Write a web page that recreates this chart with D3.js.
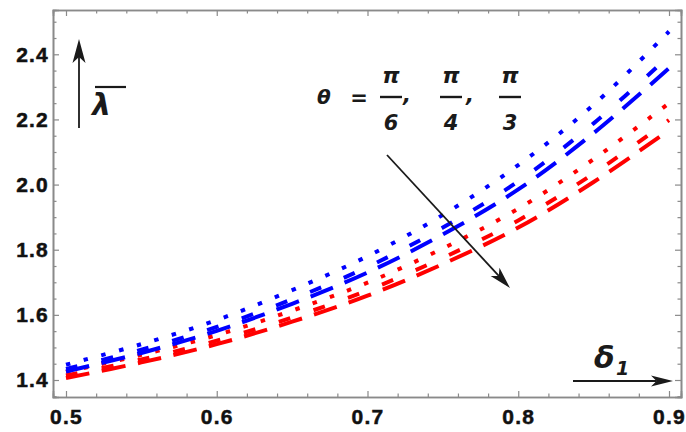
<!DOCTYPE html>
<html>
<head>
<meta charset="utf-8">
<script src="https://cdn.jsdelivr.net/npm/d3@7"></script>
<style>
  html, body { margin: 0; padding: 0; background: #fff; }
  svg { display: block; }
</style>
</head>
<body>
<svg id="chart" width="686" height="432"></svg>
<script>
// δ1 sample points
const delta = [0.5, 0.55, 0.6, 0.65, 0.7, 0.75, 0.8, 0.85, 0.9];

// λ̄ for θ = π/6, π/4, π/3 — blue family
const blueTheta6 = [1.447, 1.510, 1.584, 1.676, 1.780, 1.907, 2.060, 2.245, 2.470];
const blueTheta4 = [1.434, 1.493, 1.563, 1.648, 1.747, 1.868, 2.010, 2.188, 2.395];
const blueTheta3 = [1.426, 1.483, 1.551, 1.634, 1.730, 1.847, 1.985, 2.158, 2.357];

// λ̄ for θ = π/6, π/4, π/3 — red family
const redTheta6 = [1.425, 1.477, 1.538, 1.613, 1.699, 1.804, 1.926, 2.078, 2.250];
const redTheta4 = [1.414, 1.463, 1.521, 1.592, 1.675, 1.775, 1.890, 2.034, 2.198];
const redTheta3 = [1.406, 1.454, 1.510, 1.579, 1.659, 1.756, 1.868, 2.008, 2.167];

// tick values
const xMajorTicks = [0.5, 0.6, 0.7, 0.8, 0.9];
const yMajorTicks = [1.4, 1.6, 1.8, 2.0, 2.2, 2.4];

(function () {
const svg = d3.select("#chart");
svg.append("rect").attr("width", 686).attr("height", 432).attr("fill", "#fff");

const frameL = 53, frameR = 681, frameT = 10, frameB = 397;
const x = d3.scaleLinear().domain([0.49138, 0.90796]).range([frameL, frameR]);
const y = d3.scaleLinear().domain([1.3478, 2.536]).range([frameB, frameT]);

const xMinor = d3.range(0.5, 0.9001, 0.02).map(v => +v.toFixed(2)).filter(v => !xMajorTicks.some(t => Math.abs(t - v) < 1e-9));
const yMinor = d3.range(1.35, 2.5001, 0.05).map(v => +v.toFixed(2)).filter(v => !yMajorTicks.some(t => Math.abs(t - v) < 1e-9));

const frameColor = "#8a8a8a";
const fmt = d3.format(".1f");

function styleAxis(g, withLabels) {
  g.select(".domain").attr("stroke", frameColor).attr("stroke-width", 1.6);
  g.selectAll(".tick line").attr("stroke", frameColor).attr("stroke-width", 1.2);
  g.selectAll(".tick text")
    .attr("fill", withLabels ? "#111" : "none")
    .attr("stroke", withLabels ? "#111" : "none")
    .attr("stroke-width", 0.5)
    .style("font-family", "'Liberation Sans', Arial, sans-serif")
    .style("font-weight", "bold")
    .style("font-size", "21px")
    .style("letter-spacing", "1.2px");
}

// bottom
svg.append("g").attr("transform", `translate(0,${frameB})`)
  .call(d3.axisBottom(x).tickValues(xMinor).tickSize(-3.5).tickFormat(""))
  .call(g => styleAxis(g, false));
svg.append("g").attr("transform", `translate(0,${frameB})`)
  .call(d3.axisBottom(x).tickValues(xMajorTicks).tickSize(-6).tickPadding(12).tickFormat(fmt))
  .call(g => styleAxis(g, true));
// top
svg.append("g").attr("transform", `translate(0,${frameT})`)
  .call(d3.axisTop(x).tickValues(xMinor).tickSize(-3.5).tickFormat(""))
  .call(g => styleAxis(g, false));
svg.append("g").attr("transform", `translate(0,${frameT})`)
  .call(d3.axisTop(x).tickValues(xMajorTicks).tickSize(-6).tickFormat(""))
  .call(g => styleAxis(g, false));
// left
svg.append("g").attr("transform", `translate(${frameL},0)`)
  .call(d3.axisLeft(y).tickValues(yMinor).tickSize(-3.5).tickFormat(""))
  .call(g => styleAxis(g, false));
svg.append("g").attr("transform", `translate(${frameL},0)`)
  .call(d3.axisLeft(y).tickValues(yMajorTicks).tickSize(-6).tickPadding(4).tickFormat(fmt))
  .call(g => styleAxis(g, true));
// right
svg.append("g").attr("transform", `translate(${frameR},0)`)
  .call(d3.axisRight(y).tickValues(yMinor).tickSize(-3.5).tickFormat(""))
  .call(g => styleAxis(g, false));
svg.append("g").attr("transform", `translate(${frameR},0)`)
  .call(d3.axisRight(y).tickValues(yMajorTicks).tickSize(-6).tickFormat(""))
  .call(g => styleAxis(g, false));

// curves
const line = d3.line()
  .x((d, i) => x(delta[i]))
  .y(d => y(d))
  .curve(d3.curveCatmullRom);

const dotted = "4.5,13.8", dashed = "12,24.6", longDashed = "24,12.6";
const series = [
  { values: redTheta3, color: "#ff0000", dash: longDashed },
  { values: redTheta4, color: "#ff0000", dash: dashed },
  { values: redTheta6, color: "#ff0000", dash: dotted },
  { values: blueTheta3, color: "#0000ff", dash: longDashed },
  { values: blueTheta4, color: "#0000ff", dash: dashed },
  { values: blueTheta6, color: "#0000ff", dash: dotted }
];
svg.append("g").selectAll("path").data(series).join("path")
  .attr("d", d => line(d.values))
  .attr("fill", "none")
  .attr("stroke", d => d.color)
  .attr("stroke-width", 4)
  .attr("stroke-dasharray", d => d.dash);

// annotations
const ink = "#1a1a1a";
function arrow(x1, y1, x2, y2, len, half) {
  const a = Math.atan2(y2 - y1, x2 - x1);
  const ux = Math.cos(a), uy = Math.sin(a), px = -uy, py = ux;
  const bx = x2 - ux * len, by = y2 - uy * len;
  const nx = x2 - ux * len * 0.75, ny = y2 - uy * len * 0.75;
  svg.append("line").attr("x1", x1).attr("y1", y1).attr("x2", nx).attr("y2", ny)
    .attr("stroke", ink).attr("stroke-width", 1.8);
  svg.append("path")
    .attr("d", `M${x2},${y2}L${bx + px * half},${by + py * half}L${nx},${ny}L${bx - px * half},${by - py * half}Z`)
    .attr("fill", ink);
}
arrow(79, 128, 79, 39, 24, 6.5);
arrow(387, 155, 510, 288, 22, 6);
arrow(573, 381, 673, 381, 22, 5.5);

const italic = "'DejaVu Sans', Verdana, sans-serif";
function txt(s, xp, yp, size, anchor, weight) {
  return svg.append("text").attr("x", xp).attr("y", yp)
    .attr("text-anchor", anchor || "start")
    .style("font-family", italic).style("font-style", "italic")
    .style("font-size", size + "px").style("font-weight", weight || "normal")
    .attr("fill", ink).text(s);
}

// λ̄ label
txt("λ", 92, 115, 30, "start", "bold");
svg.append("line").attr("x1", 95).attr("x2", 126).attr("y1", 87).attr("y2", 87)
  .attr("stroke", ink).attr("stroke-width", 2.2);

// θ = π/6, π/4, π/3
txt("θ", 317, 104, 20, "start", "bold");
txt("=", 359, 105, 21, "middle", "bold");
const fracs = [{ c: 391, d: "6", comma: 403 }, { c: 451, d: "4", comma: 466 }, { c: 510, d: "3" }];
fracs.forEach(f => {
  txt("π", f.c, 83, 22, "middle", "bold");
  svg.append("line").attr("x1", f.c - 11).attr("x2", f.c + 11).attr("y1", 97).attr("y2", 97)
    .attr("stroke", ink).attr("stroke-width", 2.4);
  txt(f.d, f.c, 130, 21, "middle", "bold");
  if (f.comma) txt(",", f.comma, 102, 21, "start", "bold");
});

// δ1 label
txt("δ", 594, 368, 30, "start", "bold");
txt("1", 616, 375, 19, "start", "bold");
})();
</script>
</body>
</html>
